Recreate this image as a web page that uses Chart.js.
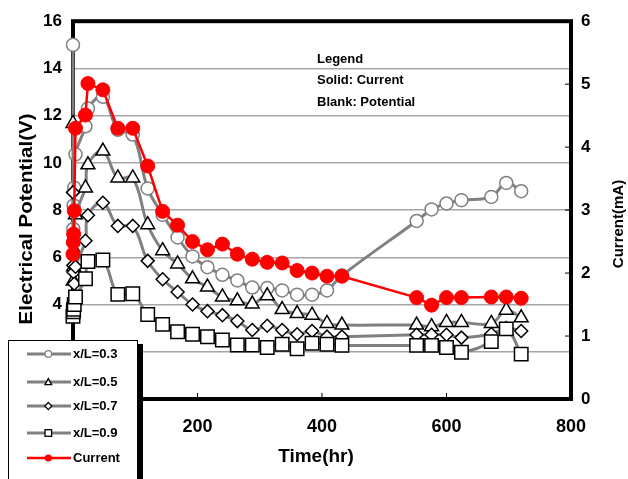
<!DOCTYPE html>
<html><head><meta charset="utf-8">
<script src="https://cdn.jsdelivr.net/npm/chart.js@4"></script>
<style>
html,body{margin:0;padding:0;background:#fff;}
#wrap{position:relative;width:628px;height:479px;overflow:hidden;}
canvas{display:block;}
#legend{position:absolute;left:8px;top:340px;width:128px;height:170px;background:#fff;border:1px solid #000;box-shadow:5px 4px 0 0 #000;font:bold 13px "Liberation Sans",Arial,sans-serif;color:#000;}
#legend .sw{position:absolute;left:18px;width:44px;height:14px;}
#legend .tx{position:absolute;left:64px;line-height:16px;white-space:nowrap;}
</style></head>
<body><div id="wrap"><canvas id="c" width="628" height="479"></canvas><div id="legend"></div></div>
<script>
// ---- data ----
const times = [0, 0.5, 1, 2, 4, 20, 24, 48, 72, 96, 120, 144, 168, 192, 216, 240, 264, 288, 312, 336, 360, 384, 408, 432, 552, 576, 600, 624, 672, 696, 720];
const current = [2.30, 2.49, 2.62, 2.99, 4.30, 4.51, 5.01, 4.91, 4.30, 4.30, 3.70, 2.98, 2.76, 2.50, 2.37, 2.46, 2.30, 2.22, 2.17, 2.16, 2.04, 2.00, 1.95, 1.95, 1.61, 1.49, 1.61, 1.61, 1.62, 1.62, 1.60];
const pot03 = [15.0, 7.2, 8.2, 8.95, 10.36, 11.55, 12.3, 12.8, 11.4, 11.2, 8.92, 7.8, 6.84, 6.04, 5.58, 5.26, 5.02, 4.72, 4.70, 4.60, 4.42, 4.42, 4.60, 5.23, 7.54, 8.03, 8.28, 8.42, 8.56, 9.15, 8.8];
const pot05 = [11.67, 5.0, 5.6, 6.3, 7.8, 8.94, 9.92, 10.5, 9.36, 9.36, 7.38, 6.28, 5.72, 5.09, 4.74, 4.32, 4.16, 4.02, 4.37, 3.79, 3.62, 3.55, 3.20, 3.13, 3.13, 3.06, 3.24, 3.24, 3.2, 3.76, 3.44];
const pot07 = [8.75, 5.66, 5.37, 4.88, 5.6, 6.70, 7.78, 8.31, 7.33, 7.33, 5.85, 5.07, 4.53, 4.0, 3.72, 3.55, 3.30, 2.92, 3.10, 2.92, 2.74, 2.88, 2.64, 2.64, 2.72, 2.72, 2.72, 2.6, 2.75, 3.0, 2.88];
const pot09 = [3.5, 3.69, 3.8, 4.0, 4.32, 5.09, 5.82, 5.89, 4.43, 4.46, 3.58, 3.16, 2.85, 2.74, 2.64, 2.50, 2.29, 2.29, 2.18, 2.32, 2.13, 2.36, 2.32, 2.27, 2.27, 2.27, 2.18, 1.98, 2.43, 2.97, 1.9];
const seriesNames = ['x/L=0.3', 'x/L=0.5', 'x/L=0.7', 'x/L=0.9', 'Current'];
const xTitle = 'Time(hr)';
const yTitle = 'Electrical Potential(V)';
const y2Title = 'Current(mA)';
const noteLines = ['Legend', 'Solid: Current', 'Blank: Potential'];

const pts = arr => times.map((t, i) => ({x: t, y: arr[i]}));
const FONT = '"Liberation Sans", Arial, sans-serif';
const gray = '#808080';
const pot = (label, arr, style, r, bc, order) => ({
  label, data: pts(arr), yAxisID: 'y', borderColor: gray, borderWidth: 3, tension: 0.4,
  pointStyle: style, pointRadius: r, pointBackgroundColor: '#fff', pointBorderColor: bc,
  pointBorderWidth: 1.5, clip: false, order, fill: false
});

function drawText(ctx, text, x, y, font, rot, sx) {
  ctx.save();
  ctx.fillStyle = '#000';
  ctx.font = font;
  ctx.textAlign = 'center';
  ctx.textBaseline = 'middle';
  ctx.translate(x, y);
  ctx.rotate(rot);
  ctx.scale(sx, 1);
  ctx.fillText(text, 0, 0);
  ctx.restore();
}

const framePlugin = {
  id: 'frame',
  beforeDatasetsDraw(chart) {
    const {ctx, chartArea: a, scales} = chart;
    ctx.save();
    ctx.strokeStyle = '#000';
    ctx.lineWidth = 4;
    ctx.strokeRect(a.left, a.top, a.right - a.left, a.bottom - a.top);
    ctx.lineWidth = 1;
    scales.x.ticks.forEach(t => {
      if (t.value <= scales.x.min || t.value >= scales.x.max) return;
      const px = scales.x.getPixelForValue(t.value);
      ctx.beginPath(); ctx.moveTo(px, a.bottom); ctx.lineTo(px, a.bottom - 6); ctx.stroke();
    });
    scales.y2.ticks.forEach(t => {
      if (t.value <= scales.y2.min || t.value >= scales.y2.max) return;
      const py = scales.y2.getPixelForValue(t.value);
      ctx.beginPath(); ctx.moveTo(a.right, py); ctx.lineTo(a.right - 6, py); ctx.stroke();
    });
    ctx.restore();
  },
  afterDraw(chart) {
    const {ctx} = chart;
    drawText(ctx, yTitle, 27, 219, 'bold 18px ' + FONT, -Math.PI / 2, 1.14);
    drawText(ctx, xTitle, 316, 457, 'bold 19px ' + FONT, 0, 1.0);
    drawText(ctx, y2Title, 619, 224, 'bold 15px ' + FONT, -Math.PI / 2, 1.0);
    ctx.save();
    ctx.fillStyle = '#000';
    ctx.font = 'bold 13px ' + FONT;
    ctx.textAlign = 'left';
    ctx.textBaseline = 'alphabetic';
    noteLines.forEach((s, i) => ctx.fillText(s, 317, 62.5 + i * 21.8));
    ctx.restore();
  }
};

new Chart(document.getElementById('c'), {
  type: 'line',
  data: {
    datasets: [
      {label: seriesNames[4], data: pts(current), yAxisID: 'y2', borderColor: '#ff0000', backgroundColor: '#ff0000',
       borderWidth: 2.5, tension: 0, pointStyle: 'circle', pointRadius: 7, pointBackgroundColor: '#ff0000',
       pointBorderColor: '#ff0000', pointBorderWidth: 1, clip: false, order: 0, fill: false},
      pot(seriesNames[3], pot09, 'rect', 9.5, '#000', 1),
      pot(seriesNames[2], pot07, 'rectRot', 6.5, '#000', 2),
      pot(seriesNames[1], pot05, 'triangle', 8, '#000', 3),
      pot(seriesNames[0], pot03, 'circle', 6.5, gray, 4)
    ]
  },
  options: {
    responsive: false, animation: false, devicePixelRatio: 1, events: [],
    layout: {padding: {top: 17, left: 0, right: 0, bottom: 0}},
    plugins: {legend: {display: false}, tooltip: {enabled: false}},
    scales: {
      x: {
        type: 'linear', min: 0, max: 800,
        ticks: {stepSize: 200, color: '#000', padding: 17, font: {family: FONT, size: 18, weight: 'bold'}},
        grid: {display: false, drawTicks: false}, border: {display: false},
        title: {display: false, text: xTitle},
        afterFit: s => { s.height = 80; }
      },
      y: {
        position: 'left', min: 0, max: 16,
        ticks: {stepSize: 2, color: '#000', padding: 11, font: {family: FONT, size: 17, weight: 'bold'}},
        grid: {color: '#a6a6a6', lineWidth: 1.5, drawTicks: false}, border: {display: false},
        title: {display: false, text: yTitle},
        afterFit: s => { s.width = 73; }
      },
      y2: {
        position: 'right', min: 0, max: 6,
        ticks: {stepSize: 1, color: '#000', padding: 10, font: {family: FONT, size: 17, weight: 'bold'}},
        grid: {display: false, drawTicks: false}, border: {display: false},
        title: {display: false, text: y2Title},
        afterFit: s => { s.width = 57; }
      }
    }
  },
  plugins: [framePlugin]
});

// ---- HTML legend ----
(function () {
  const lg = document.getElementById('legend');
  const rowsY = [13, 40.7, 65, 91.7, 117.3];
  const marks = [
    '<circle cx="21.3" cy="7" r="3.3" fill="#fff" stroke="#808080" stroke-width="1.2"/>',
    '<polygon points="21.3,3.6 24.6,9.6 18,9.6" fill="#fff" stroke="#000" stroke-width="1.3"/>',
    '<polygon points="21.3,3.4 24.8,7 21.3,10.6 17.8,7" fill="#fff" stroke="#000" stroke-width="1.3"/>',
    '<rect x="18" y="3.7" width="6.6" height="6.6" fill="#fff" stroke="#000" stroke-width="1.3"/>',
    '<circle cx="21.3" cy="7" r="3.6" fill="#ff0000"/>'
  ];
  seriesNames.forEach((name, i) => {
    const col = i === 4 ? '#ff0000' : '#808080';
    const w = i === 4 ? 2.5 : 3;
    const y = rowsY[i];
    lg.insertAdjacentHTML('beforeend',
      '<svg class="sw" style="top:' + (y - 7) + 'px" viewBox="0 0 44 14"><line x1="0" y1="7" x2="44" y2="7" stroke="' + col + '" stroke-width="' + w + '"/>' + marks[i] + '</svg>' +
      '<div class="tx" style="top:' + (y - 8) + 'px">' + name + '</div>');
  });
})();
</script>
</body></html>
